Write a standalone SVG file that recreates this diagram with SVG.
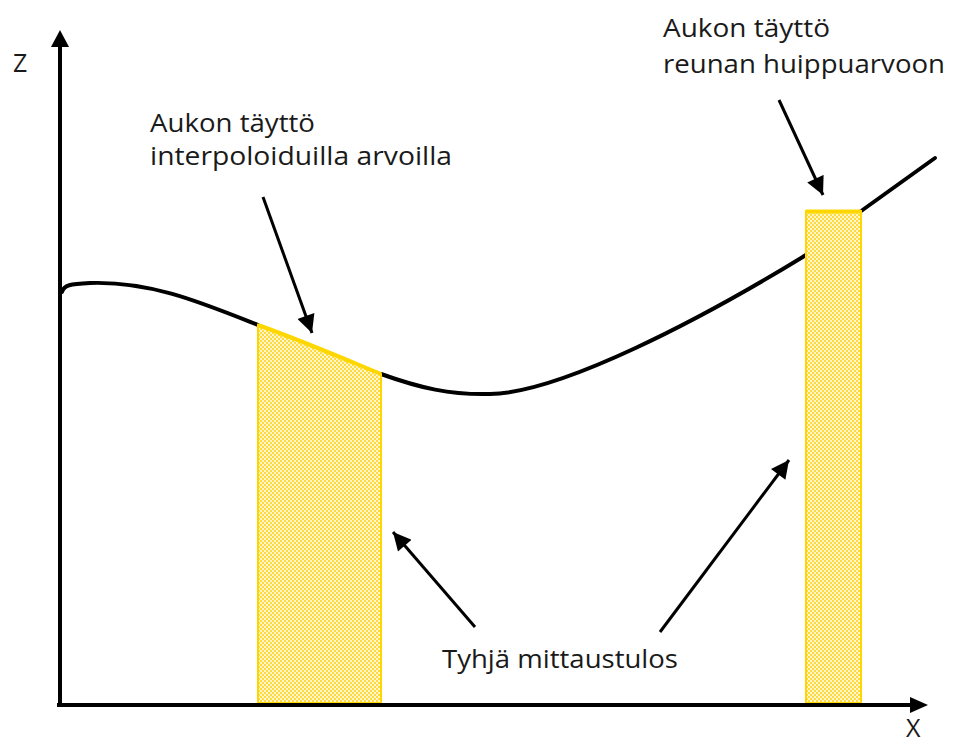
<svg xmlns="http://www.w3.org/2000/svg" width="953" height="745" viewBox="0 0 953 745">
  <style>
    .lbl { font-family: "Open Sans", "Liberation Sans", sans-serif; font-size: 25px; fill: #1a1a1a; }
    .axis { stroke: #000; stroke-width: 4; fill: none; }
    .curve { stroke: #000; stroke-width: 4; fill: none; stroke-linecap: round; }
    .fill { fill: url(#dots); stroke: #FFD700; stroke-width: 2; }
    .edge { stroke: #FFD700; stroke-width: 4; fill: none; stroke-linecap: butt; }
    .pointer { stroke: #000; stroke-width: 3; fill: none; marker-end: url(#head); }
  </style>
  <defs>
    <pattern id="dots" width="4" height="4" patternUnits="userSpaceOnUse">
      <rect width="4" height="4" fill="#FFF6CC"/>
      <rect x="0" y="0" width="2" height="2" fill="#FFD940"/>
      <rect x="2" y="2" width="2" height="2" fill="#FFD940"/>
    </pattern>
    <marker id="head" viewBox="0 0 10 10" refX="10" refY="5" markerWidth="6.5" markerHeight="6" markerUnits="strokeWidth" orient="auto">
      <path d="M0,0 L10,5 L0,10 Z" fill="#000"/>
    </marker>
  </defs>

  <rect width="953" height="745" fill="#fff"/>

  <!-- measured profile -->
  <g id="profile">
    <path class="curve" d="M62,292 C64,285 70,284 90,283 C150,281 200,302 258,325"/>
    <path class="curve" d="M381,374 C420,388 450,395 490,394 C560,393 700,320 806,255"/>
    <path class="curve" d="M850,219 L935,158"/>
  </g>

  <!-- gap filled with interpolated values -->
  <g id="gap-interpolated">
    <path class="fill" d="M258,325 L381,374 L381,703 L258,703 Z"/>
    <path class="edge" d="M258,325 C300,340 340,357 381,374"/>
  </g>

  <!-- gap filled up to the edge peak -->
  <g id="gap-peak">
    <rect class="fill" x="806" y="211" width="55" height="492"/>
    <path class="edge" d="M806,211.5 L861,211.5"/>
  </g>

  <!-- axes -->
  <g id="axes">
    <path class="axis" d="M60,707 L60,46"/>
    <path d="M51,47 L60,30 L69,47 Z" fill="#000"/>
    <path class="axis" d="M57,705 L911,705"/>
    <path d="M910,697 L928,705 L910,713 Z" fill="#000"/>
    <text class="lbl" x="13" y="72" font-size="27">Z</text>
    <text class="lbl" x="906" y="737" font-size="24">X</text>
  </g>

  <!-- pointer arrows -->
  <g id="connectors">
    <path class="pointer" d="M263,197 L312,333"/>
    <path class="pointer" d="M779,100 L823,195"/>
    <path class="pointer" d="M475,627 L393,532"/>
    <path class="pointer" d="M660,632 L789,460"/>
  </g>

  <!-- labels -->
  <g id="label-interpolated">
    <text class="lbl" x="150" y="132" textLength="165" lengthAdjust="spacingAndGlyphs">Aukon täyttö</text>
    <text class="lbl" x="150" y="165" textLength="302" lengthAdjust="spacingAndGlyphs">interpoloiduilla arvoilla</text>
  </g>
  <g id="label-peak">
    <text class="lbl" x="663" y="37" textLength="167" lengthAdjust="spacingAndGlyphs">Aukon täyttö</text>
    <text class="lbl" x="663" y="73" textLength="282" lengthAdjust="spacingAndGlyphs">reunan huippuarvoon</text>
  </g>
  <g id="label-empty">
    <text class="lbl" x="442" y="668" textLength="236" lengthAdjust="spacingAndGlyphs">Tyhjä mittaustulos</text>
  </g>
</svg>
